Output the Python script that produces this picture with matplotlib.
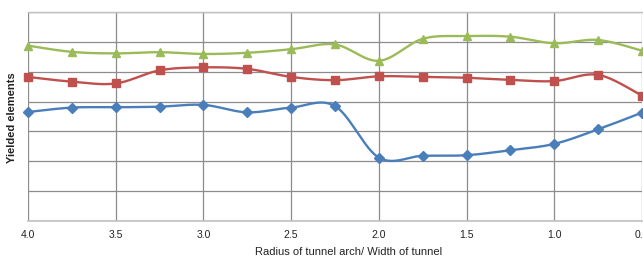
import numpy as np
import matplotlib
matplotlib.use("Agg")
import matplotlib.pyplot as plt

x = [4.0, 3.75, 3.5, 3.25, 3.0, 2.75, 2.5, 2.25, 2.0, 1.75, 1.5, 1.25, 1.0, 0.75, 0.5]
blue = [3.65, 3.80, 3.81, 3.83, 3.89, 3.64, 3.80, 3.85, 2.12, 2.18, 2.20, 2.37, 2.58, 3.07, 3.63]
red = [4.83, 4.67, 4.61, 5.05, 5.15, 5.10, 4.83, 4.72, 4.85, 4.83, 4.80, 4.73, 4.69, 4.90, 4.20]
green = [5.88, 5.67, 5.62, 5.66, 5.60, 5.64, 5.76, 5.92, 5.37, 6.11, 6.20, 6.18, 5.96, 6.07, 5.71]
xticks = [4.0, 3.5, 3.0, 2.5, 2.0, 1.5, 1.0, 0.5]


def smooth(xs, ys, n=30):
    xs = np.asarray(xs, float)
    ys = np.asarray(ys, float)
    P = np.column_stack([xs, ys])
    out = []
    m = len(P)
    for i in range(m - 1):
        p0 = P[i - 1] if i > 0 else P[i]
        p1 = P[i]
        p2 = P[i + 1]
        p3 = P[i + 2] if i + 2 < m else P[i + 1]
        c1 = p1 + (p2 - p0) / 6.0
        c2 = p2 - (p3 - p1) / 6.0
        t = np.linspace(0, 1, n)[:, None]
        seg = ((1 - t) ** 3) * p1 + 3 * ((1 - t) ** 2) * t * c1 + 3 * (1 - t) * t ** 2 * c2 + t ** 3 * p2
        if i > 0:
            seg = seg[1:]
        out.append(seg)
    out = np.vstack(out)
    return out[:, 0], out[:, 1]


fig = plt.figure(figsize=(6.43, 2.56), dpi=100)
ax = fig.add_axes([28 / 643, (256 - 220.7) / 256, 614 / 643, (220.7 - 12.3) / 256])

series = [
    (blue, "#4A7EBB", "D", 4.8),
    (red, "#C0504D", "s", 6.0),
    (green, "#9BBB59", "^", 6.2),
]
for ys, col, mk, ms in series:
    sx, sy = smooth(x, ys)
    ax.plot(sx, sy, color=col, lw=1.7, zorder=3, clip_on=False)
    ax.plot(x, ys, linestyle="none", marker=mk, color=col, ms=ms, zorder=4, clip_on=False)

ax.set_xlim(4.0, 0.5)
ax.set_ylim(0, 7)
ax.set_xticks(xticks)
ax.set_xticklabels([f"{v:.1f}" for v in xticks], fontsize=7.5, family="Liberation Sans", color="#222222")
ax.set_yticks(range(0, 8))
ax.set_yticklabels([])
ax.tick_params(axis="both", length=0, pad=7)
ax.grid(True, color="#8c8c8c", lw=0.9)
ax.set_axisbelow(True)
for s in ["left", "right"]:
    ax.spines[s].set_visible(False)
ax.spines["top"].set_color("#c0c0c0")
ax.spines["bottom"].set_color("#c0c0c0")
ax.spines["top"].set_linewidth(1.0)
ax.spines["bottom"].set_linewidth(1.2)

fig.text(349 / 643, 1 - 252 / 256, "Radius of tunnel arch/ Width of tunnel", ha="center", va="center",
         fontsize=8, family="Liberation Sans", color="#222222")
fig.text(12 / 643, 1 - 118 / 256, "Yielded elements", ha="center", va="center", rotation=90,
         fontsize=8, fontweight="bold", family="Liberation Sans", color="#222222")

fig.savefig("out.png", dpi=100)
